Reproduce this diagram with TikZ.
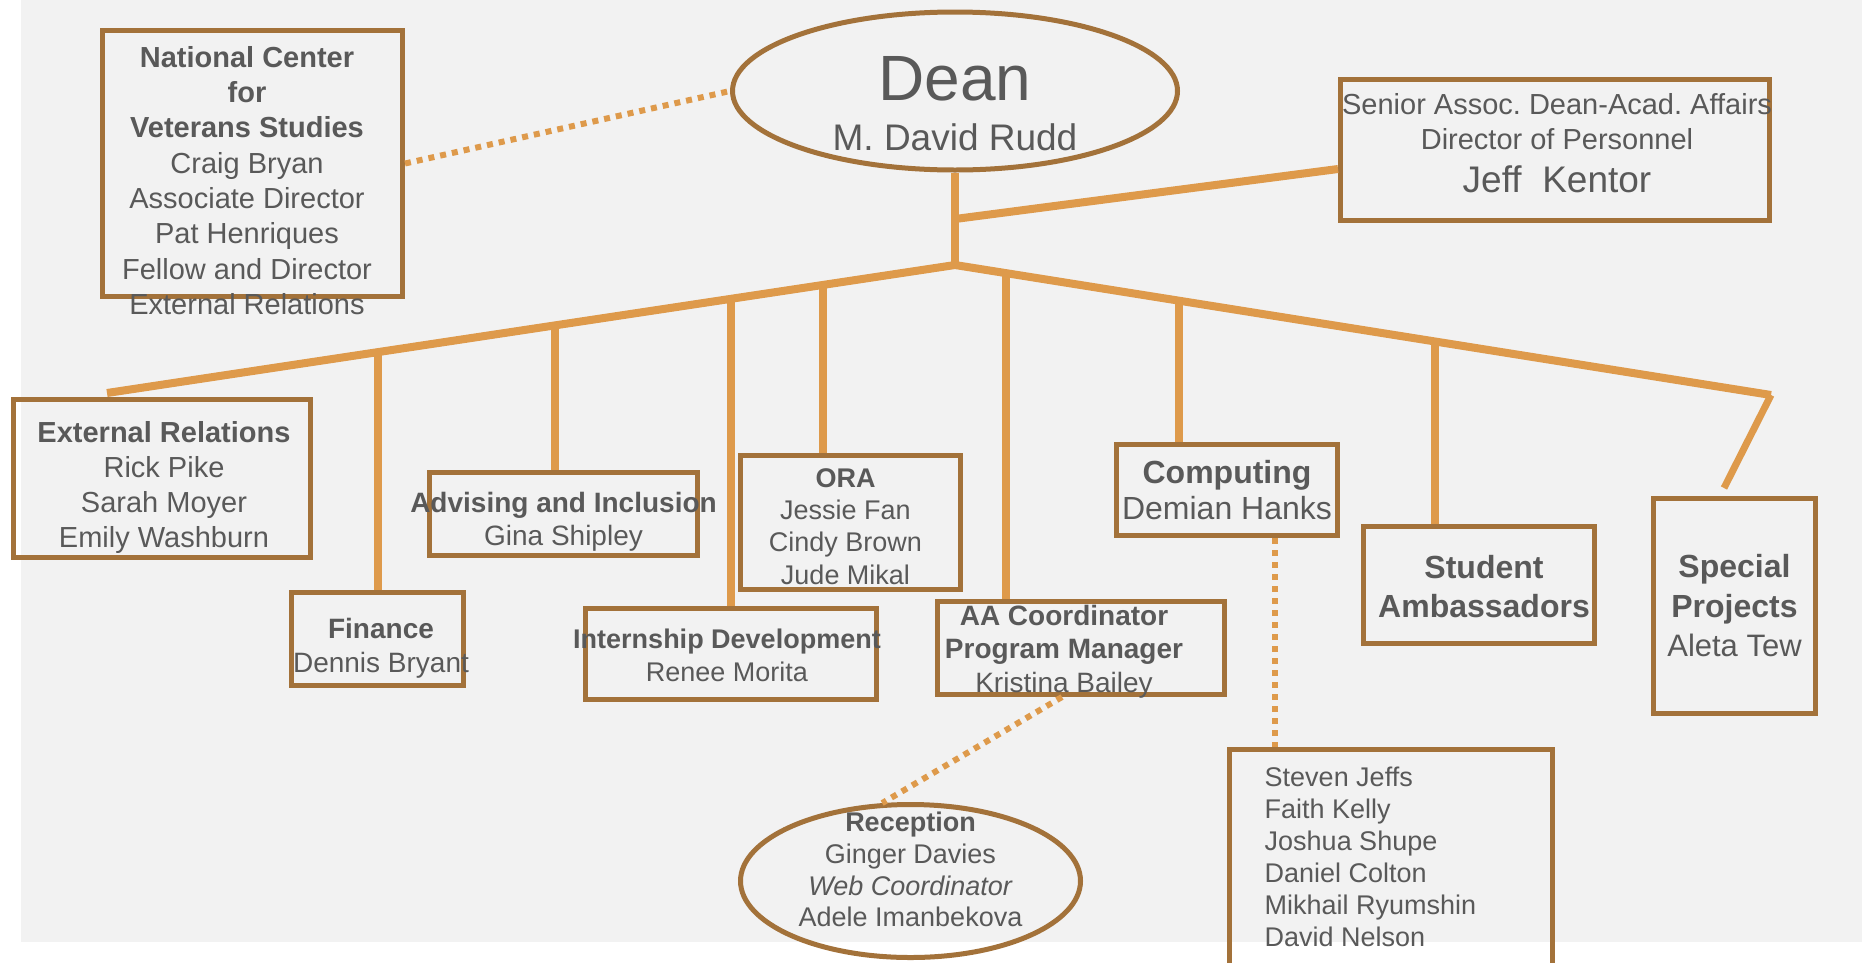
\documentclass[tikz,border=0pt]{standalone}
\usepackage{fontspec}
\setmainfont{Liberation Sans}
\usetikzlibrary{shapes.geometric}

\definecolor{bggray}{HTML}{F2F2F2}
\definecolor{boxbrown}{HTML}{A3723A}
\definecolor{linkorange}{HTML}{DE9A4B}
\definecolor{ink}{HTML}{595959}
\newcommand{\fsz}[2]{\fontsize{#1}{#2}\selectfont}
\frenchspacing

\begin{document}
\begin{tikzpicture}[x=1pt, y=-1pt]
  \tikzstyle{unit}=[rectangle, draw = boxbrown, line width = 5pt, inner sep = 0pt]
  \tikzstyle{oval}=[ellipse, draw = boxbrown, line width = 5pt, inner sep = 0pt]
  \tikzstyle{txt}=[text = ink, align = center, inner sep = 0pt]
  \tikzstyle{trunk}=[draw = linkorange, line width = 8pt]
  \tikzstyle{dotlink}=[draw = linkorange, line width = 6pt, dash pattern = on 6pt off 6pt]

  \useasboundingbox (0,0) rectangle (1862,962);
  \fill[bggray] (21,0) rectangle (1862,942);

  % boxes
  \node[oval, minimum width = 445pt, minimum height = 158pt] (dean) at (955,91) {};
  \node[unit, minimum width = 300pt, minimum height = 266pt] (nat) at (252.5,163.5) {};
  \node[unit, minimum width = 429pt, minimum height = 141pt] (sen) at (1555,150) {};
  \node[unit, minimum width = 297pt, minimum height = 158pt] (ext) at (162,478.5) {};
  \node[unit, minimum width = 172pt, minimum height = 93pt] (fin) at (377.5,639) {};
  \node[unit, minimum width = 268pt, minimum height = 83pt] (adv) at (563.5,514) {};
  \node[unit, minimum width = 291pt, minimum height = 91pt] (intern) at (731,654) {};
  \node[unit, minimum width = 220pt, minimum height = 134pt] (ora) at (850.5,522.5) {};
  \node[unit, minimum width = 287pt, minimum height = 93pt] (aa) at (1081,648) {};
  \node[unit, minimum width = 221pt, minimum height = 91pt] (com) at (1227,490) {};
  \node[unit, minimum width = 231pt, minimum height = 117pt] (stu) at (1479,585) {};
  \node[unit, minimum width = 162pt, minimum height = 215pt] (spe) at (1734.5,606) {};
  \node[unit, minimum width = 323pt, minimum height = 216pt] (staff) at (1391,857.5) {};
  \node[oval, minimum width = 340pt, minimum height = 153pt] (rec) at (910.5,881) {};

  % texts
  \node[txt, font = \fsz{37}{50}, yshift = -13pt] (deanT) at (dean)
    {{\fsz{64}{64}Dean}\\M. David Rudd};
  \node[txt, font = \fsz{29}{35.3}, xshift = -5.5pt, yshift = -17pt] (natT) at (nat)
    {\textbf{National Center}\\\textbf{for}\\\textbf{Veterans Studies}\\Craig Bryan\\Associate Director\\Pat Henriques\\Fellow and Director\\External Relations};
  \node[txt, font = \fsz{29}{35}, xshift = 2pt, yshift = 6.5pt] (senT) at (sen)
    {Senior Assoc. Dean-Acad. Affairs\\Director of Personnel\\[8pt]{\fsz{37}{37}Jeff~~Kentor}};
  \node[txt, font = \fsz{29}{35}, xshift = 2pt, yshift = -9pt] (extT) at (ext)
    {\textbf{External Relations}\\Rick Pike\\Sarah Moyer\\Emily Washburn};
  \node[txt, font = \fsz{28}{34}, xshift = 3.5pt, yshift = -9pt] (finT) at (fin)
    {\textbf{Finance}\\Dennis Bryant};
  \node[txt, font = \fsz{28}{33}, yshift = -7.5pt] (advT) at (adv)
    {\textbf{Advising and Inclusion}\\Gina Shipley};
  \node[txt, font = \fsz{27}{33}, xshift = -4pt, yshift = -1.5pt] (internT) at (intern)
    {\textbf{Internship Development}\\Renee Morita};
  \node[txt, font = \fsz{27}{32.3}, xshift = -5pt, yshift = -4pt] (oraT) at (ora)
    {\textbf{ORA}\\Jessie Fan\\Cindy Brown\\Jude Mikal};
  \node[txt, font = \fsz{28}{33.5}, xshift = -17pt, yshift = -3.4pt] (aaT) at (aa)
    {\textbf{AA Coordinator}\\\textbf{Program Manager}\\Kristina Bailey};
  \node[txt, font = \fsz{32}{36}] (comT) at (com)
    {\textbf{Computing}\\Demian Hanks};
  \node[txt, font = \fsz{32}{39}, xshift = 5pt, yshift = -1.5pt] (stuT) at (stu)
    {\textbf{Student}\\\textbf{Ambassadors}};
  \node[txt, font = \fsz{32}{39.5}] (speT) at (spe)
    {\textbf{Special}\\\textbf{Projects}\\{\fsz{31}{31}Aleta Tew}};
  \node[txt, font = \fsz{27}{32}, align = left, anchor = west, xshift = 37.5pt, yshift = 1pt] (staffT) at (staff.west)
    {Steven Jeffs\\Faith Kelly\\Joshua Shupe\\Daniel Colton\\Mikhail Ryumshin\\David Nelson};
  \node[txt, font = \fsz{27}{31.7}, yshift = 11.5pt] (recT) at (rec)
    {\textbf{Reception}\\Ginger Davies\\\textit{Web Coordinator}\\Adele Imanbekova};

  % tree
  \coordinate (jn) at (955,265);
  \coordinate (kink) at (955,219);
  \coordinate (lend) at (107,393);
  \coordinate (rend) at (1771,395);
  \coordinate[xshift = 48pt] (cdot) at (com.south);

  \path (jn) -- (lend) coordinate[pos = 0.680] (bfin)
                       coordinate[pos = 0.472] (badv)
                       coordinate[pos = 0.2645] (bint)
                       coordinate[pos = 0.156] (bora);
  \path (jn) -- (rend) coordinate[pos = 0.062] (baa)
                       coordinate[pos = 0.274] (bcom)
                       coordinate[pos = 0.588] (bstu);

  \draw[trunk] (dean.south) -- (jn);
  \draw[trunk] ([yshift = -19pt]sen.west) -- (kink);
  \draw[trunk, line join = miter] (lend) -- (jn) -- (rend);
  \draw[trunk, line width = 7pt] (rend) -- ([xshift = -10.5pt, yshift = 8pt]spe.north);

  \draw[trunk] (bfin) -- (bfin |- fin.north);
  \draw[trunk] (badv) -- (badv |- adv.north);
  \draw[trunk] (bint) -- (bint |- intern.north);
  \draw[trunk] (bora) -- (bora |- ora.north);
  \draw[trunk] (baa) -- (baa |- aa.north);
  \draw[trunk] (bcom) -- (bcom |- com.north);
  \draw[trunk] (bstu) -- (bstu |- stu.north);

  \draw[dotlink] (nat.east) -- (dean.west);
  \draw[dotlink] (cdot) -- (cdot |- staff.north);
  \draw[dotlink] ([xshift = -19pt]aa.south) -- (rec.110);

\end{tikzpicture}
\end{document}
